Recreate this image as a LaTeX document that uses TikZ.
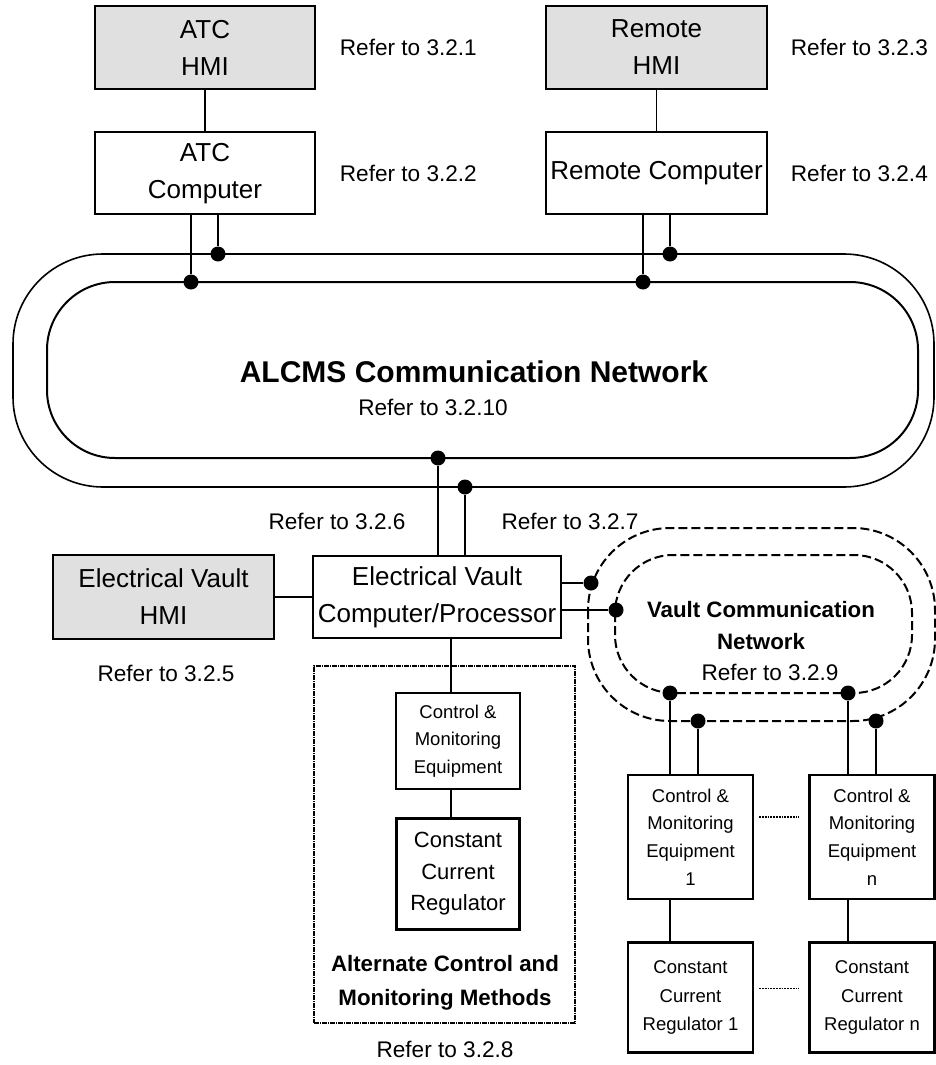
\documentclass[tikz,border=0pt]{standalone}
\usepackage{fontspec}
\setmainfont{Liberation Sans}
\usepackage{tikz}
\usepackage{xcolor}
\usetikzlibrary{positioning}
\definecolor{hmigray}{gray}{0.88}
\tikzstyle{hmi} = [rectangle, draw, line width=2.2pt, fill=hmigray, inner sep=0pt, align=center, font=\fontsize{26}{37}\selectfont]
\tikzstyle{comp} = [rectangle, draw, line width=2.2pt, fill=white, inner sep=0pt, align=center, font=\fontsize{26}{37}\selectfont]
\tikzstyle{equip} = [rectangle, draw, line width=2.5pt, fill=white, inner sep=0pt, align=center, minimum width=125pt, font=\fontsize{18.5}{27.7}\selectfont]
\tikzstyle{regbig} = [rectangle, draw, line width=2.5pt, fill=white, inner sep=0pt, align=center, font=\fontsize{22}{31.5}\selectfont]
\tikzstyle{refer} = [inner sep=0pt, font=\fontsize{22.6}{27}\selectfont]
\tikzstyle{netlabel} = [inner sep=0pt, align=center, font=\bfseries\fontsize{22.3}{32}\selectfont]
\tikzstyle{tap} = [circle, fill=black, inner sep=0pt, minimum size=15pt]
\tikzstyle{vaultbus} = [line width=2pt, dash pattern=on 9pt off 4pt]
\tikzstyle{altframe} = [line width=1.6pt, dash pattern=on 5pt off 1pt on 1pt off 1pt]
\tikzstyle{gap} = [line width=1.8pt, densely dotted]

\begin{document}
\begin{tikzpicture}[x=1pt,y=-1pt,line width=1.6pt]
  \useasboundingbox (0,0) rectangle (936,1065);

  % ALCMS network loops
  \draw[line width=1.6pt, rounded corners=90pt] (13,254) rectangle (934,487);
  \draw[line width=2pt, rounded corners=68pt] (47,282) rectangle (918,458);
  \node[font=\bfseries\fontsize{30}{34}\selectfont] (alcms) at (474,372) {ALCMS Communication Network};
  \node[refer] (ref_10) at (433,407) {Refer to 3.2.10};

  % vault network loops
  \draw[vaultbus, rounded corners=82pt] (588,528) rectangle (935,721);
  \draw[vaultbus, rounded corners=58pt] (615,555) rectangle (912,693);
  \node[netlabel] (vault) at (761,626) {Vault Communication\\Network};
  \node[refer] (ref_9) at (770,672) {Refer to 3.2.9};

  % ATC and remote side
  \node[hmi, minimum width=220pt, minimum height=83pt] (atc_hmi) at (205,47.5) {ATC\\HMI};
  \node[comp, minimum width=220pt, minimum height=82pt] (atc_comp) [below=41pt of atc_hmi] {ATC\\Computer};
  \node[hmi, minimum width=221pt, minimum height=83pt] (rem_hmi) at (656.5,47.5) {Remote\\HMI};
  \node[comp, minimum width=221pt, minimum height=82pt] (rem_comp) [below=41pt of rem_hmi] {Remote Computer};
  \node[refer, right=23pt of atc_hmi] (ref_1) {Refer to 3.2.1};
  \node[refer, right=23pt of atc_comp] (ref_2) {Refer to 3.2.2};
  \node[refer, right=22pt of rem_hmi] (ref_3) {Refer to 3.2.3};
  \node[refer, right=22pt of rem_comp] (ref_4) {Refer to 3.2.4};

  % electrical vault
  \node[hmi, minimum width=221pt, minimum height=84pt] (ev_hmi) at (163.5,597) {Electrical Vault\\HMI};
  \node[comp, minimum width=248pt, minimum height=82pt] (ev_comp) at (437,597) {Electrical Vault\\Computer/Processor};
  \node[refer] (ref_5) at (166,673) {Refer to 3.2.5};
  \node[refer] (ref_6) at (337,521) {Refer to 3.2.6};
  \node[refer] (ref_7) at (570,521) {Refer to 3.2.7};

  % alternate methods
  \node[altframe, draw, minimum width=261pt, minimum height=357pt] (alt) at (444.5,844.5) {};
  \node[equip, minimum width=124pt, minimum height=96pt] (cm_alt) at (458,741) {Control \&\\Monitoring\\Equipment};
  \node[regbig, minimum width=123pt, minimum height=111pt] (ccr_alt) [below=27pt of cm_alt] {Constant\\Current\\Regulator};
  \node[netlabel, font=\bfseries\fontsize{22.3}{34}\selectfont] (alt_label) at (445,983) {Alternate Control and\\Monitoring Methods};
  \node[refer] (ref_8) at (445,1049) {Refer to 3.2.8};
  \coordinate (alt_bus) at (451,640);

  % field equipment
  \node[equip, minimum height=124pt] (cm_1) at (690.5,837) {Control \&\\Monitoring\\Equipment\\1};
  \node[equip, minimum height=124pt] (cm_n) [right=54pt of cm_1] {Control \&\\Monitoring\\Equipment\\n};
  \node[equip, minimum height=110pt, font=\fontsize{18.5}{28.5}\selectfont] (ccr_1) [below=41pt of cm_1] {Constant\\Current\\Regulator 1};
  \node[equip, minimum height=110pt, font=\fontsize{18.5}{28.5}\selectfont] (ccr_n) [right=54pt of ccr_1] {Constant\\Current\\Regulator n};

  % taps
  \node[tap] (atc_in) at (191,282) {};
  \node[tap] (atc_out) at (218,254) {};
  \node[tap] (rem_in) at (643,282) {};
  \node[tap] (rem_out) at (670,254) {};
  \node[tap] (ev_in) at (438,458) {};
  \node[tap] (ev_out) at (465,487) {};
  \node[tap] (vlt_out) at (591,583) {};
  \node[tap] (vlt_in) at (616,610) {};
  \node[tap] (cm1_in) at (670,693) {};
  \node[tap] (cm1_out) at (698,721) {};
  \node[tap] (cmn_in) at (848,693) {};
  \node[tap] (cmn_out) at (876,721) {};

  \draw (atc_hmi) -- (atc_comp);
  \draw (rem_hmi) -- (rem_comp);
  \draw (atc_comp.south -| atc_in) -- (atc_in);
  \draw (atc_comp.south -| atc_out) -- (atc_out);
  \draw (rem_comp.south -| rem_in) -- (rem_in);
  \draw (rem_comp.south -| rem_out) -- (rem_out);
  \draw (ev_comp.north -| ev_in) -- (ev_in);
  \draw (ev_comp.north -| ev_out) -- (ev_out);
  \draw (ev_hmi) -- (ev_comp);
  \draw (ev_comp.east |- vlt_out) -- (vlt_out);
  \draw (ev_comp.east |- vlt_in) -- (vlt_in);
  \draw (ev_comp.south -| alt_bus) -- (cm_alt.north -| alt_bus);
  \draw (cm_alt.south -| alt_bus) -- (ccr_alt.north -| alt_bus);
  \draw (cm1_in) -- (cm_1.north -| cm1_in);
  \draw (cm1_out) -- (cm_1.north -| cm1_out);
  \draw (cmn_in) -- (cm_n.north -| cmn_in);
  \draw (cmn_out) -- (cm_n.north -| cmn_out);
  \draw (cm_1.south -| cm1_in) -- (ccr_1.north -| cm1_in);
  \draw (cm_n.south -| cmn_in) -- (ccr_n.north -| cmn_in);
  \draw[gap, shorten <=5pt, shorten >=9pt] ([yshift=20pt]cm_1.east) -- ([yshift=20pt]cm_n.west);
  \draw[gap, shorten <=5pt, shorten >=9pt] ([yshift=9pt]ccr_1.east) -- ([yshift=9pt]ccr_n.west);
\end{tikzpicture}
\end{document}
